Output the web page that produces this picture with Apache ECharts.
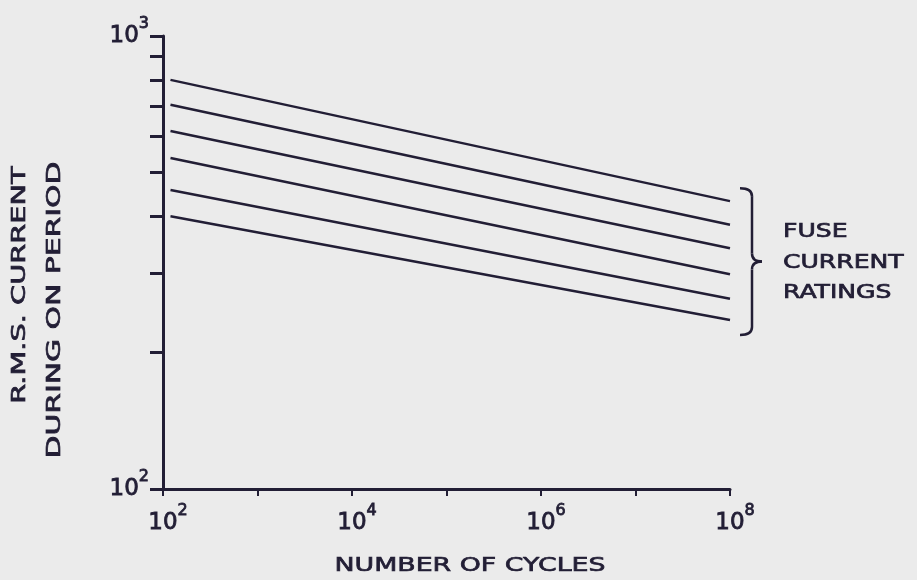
<!DOCTYPE html>
<html>
<head>
<meta charset="utf-8">
<script src="https://cdn.jsdelivr.net/npm/echarts@6/dist/echarts.min.js"></script>
<style>
  html, body { margin: 0; padding: 0; background: #ebebeb; }
  #chart { width: 917px; height: 580px; }
</style>
</head>
<body>
<div id="chart"></div>
<script>
// ---- data ----
const cycles = [120, 1e8];
const rating1 = [800, 432];
const rating2 = [705, 383];
const rating3 = [617, 340];
const rating4 = [538, 298];
const rating5 = [457, 263];
const rating6 = [400, 236];
const ratings = [rating1, rating2, rating3, rating4, rating5, rating6];
const xTickValues = [1e2, 1e3, 1e4, 1e5, 1e6, 1e7, 1e8];
const xLabelValues = [1e2, 1e4, 1e6, 1e8];
const yTickValues = [100, 200, 300, 400, 500, 600, 700, 800, 900, 1000];
const yLabelValues = [100, 1000];
const xName = 'NUMBER OF CYCLES';
const yName1 = 'R.M.S. CURRENT';
const yName2 = 'DURING ON PERIOD';
const noteLines = ['FUSE', 'CURRENT', 'RATINGS'];

const ink = '#221e35';
const font = '"DejaVu Sans", sans-serif';

function powLabel(v) {
  const e = Math.round(Math.log10(v));
  return '{b|10}{s|' + e + '}';
}
const tb = { textBorderColor: ink, textBorderWidth: 0.8 };
const richX = {
  b: Object.assign({ fontSize: 23, fontFamily: font, color: ink, padding: [0, 0, 0, 10] }, tb),
  s: Object.assign({ fontSize: 16, fontFamily: font, color: ink, padding: [0, 0, 24, 0] }, tb)
};
const richY = {
  b: Object.assign({ fontSize: 23, fontFamily: font, color: ink }, tb),
  s: Object.assign({ fontSize: 16, fontFamily: font, color: ink, padding: [0, 0, 24, 0] }, tb)
};

const chart = echarts.init(document.getElementById('chart'));
const option = {
  backgroundColor: '#ebebeb',
  animation: false,
  grid: { left: 163, right: 187, top: 36, bottom: 91, containLabel: false },
  xAxis: {
    type: 'log', logBase: 10, min: 100, max: 1e8,
    splitLine: { show: false },
    axisLine: { lineStyle: { color: ink, width: 3 } },
    axisTick: { show: true, length: 7, lineStyle: { color: ink, width: 2 }, customValues: xTickValues },
    axisLabel: { margin: 14, formatter: powLabel, rich: richX, customValues: xLabelValues }
  },
  yAxis: {
    type: 'log', logBase: 10, min: 100, max: 1000,
    splitLine: { show: false },
    axisLine: { show: true, lineStyle: { color: ink, width: 3 } },
    axisTick: { show: true, length: 13, lineStyle: { color: ink, width: 3 }, customValues: yTickValues },
    axisLabel: { margin: 14, formatter: powLabel, rich: richY, customValues: yLabelValues }
  },
  series: ratings.map(r => ({
    type: 'line',
    data: cycles.map((c, i) => [c, r[i]]),
    showSymbol: false,
    symbol: 'none',
    lineStyle: { color: ink, width: 2.5 },
    silent: true
  }))
};
chart.setOption(option);

// annotations positioned from chart coordinates
const topEnd = chart.convertToPixel({ gridIndex: 0 }, [cycles[1], rating1[1]]);
const botEnd = chart.convertToPixel({ gridIndex: 0 }, [cycles[1], rating6[1]]);
const bx0 = topEnd[0] + 10, bx1 = bx0 + 12, bx2 = bx1 + 10;
const by0 = topEnd[1] - 13, by1 = botEnd[1] + 15, bym = (by0 + by1) / 2;
const rr = 8;
const braceStyle = { fill: 'none', stroke: ink, lineWidth: 2.5 };
function qcurve(x1, y1, cx, cy, x2, y2) {
  return { type: 'bezierCurve', shape: { x1: x1, y1: y1, x2: x2, y2: y2, cpx1: cx, cpy1: cy }, style: braceStyle };
}
function seg(x1, y1, x2, y2) {
  return { type: 'line', shape: { x1: x1, y1: y1, x2: x2, y2: y2 }, style: braceStyle };
}

function txt(text, x, y, size, sx, rot, align) {
  return {
    type: 'text', x: x, y: y, scaleX: sx, rotation: rot || 0,
    style: { text: text, x: 0, y: 0, align: align || 'center', verticalAlign: 'middle',
             fill: ink, stroke: ink, lineWidth: 0.7, font: size + 'px ' + font }
  };
}

chart.setOption({
  graphic: [
    qcurve(bx0, by0, bx1, by0, bx1, by0 + rr),
    seg(bx1, by0 + rr, bx1, bym - rr),
    qcurve(bx1, bym - rr, bx1, bym, bx2, bym),
    qcurve(bx2, bym, bx1, bym, bx1, bym + rr),
    seg(bx1, bym + rr, bx1, by1 - rr),
    qcurve(bx1, by1 - rr, bx1, by1, bx0, by1),
    txt(noteLines[0], 783, 232, 19, 1.32, 0, 'left'),
    txt(noteLines[1], 783, 263, 19, 1.32, 0, 'left'),
    txt(noteLines[2], 783, 293, 19, 1.32, 0, 'left'),
    txt(xName, 470, 566, 20, 1.34, 0, 'center'),
    txt(yName1, 20, 285, 20, 1.44, Math.PI / 2, 'center'),
    txt(yName2, 55, 310, 20, 1.49, Math.PI / 2, 'center')
  ]
});
</script>
</body>
</html>
